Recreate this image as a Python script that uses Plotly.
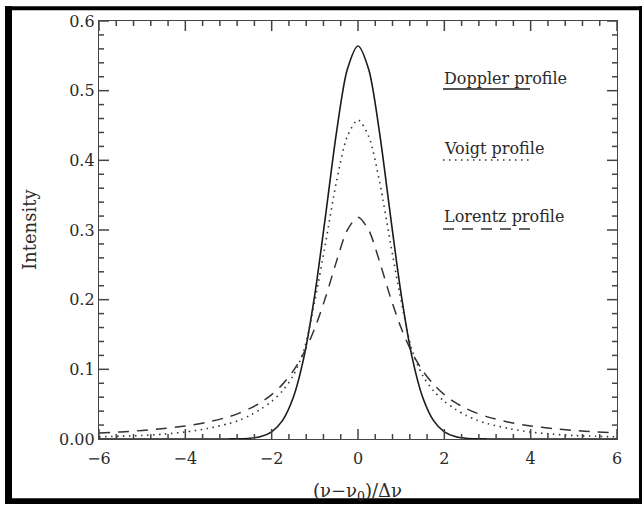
import plotly.graph_objects as go

# ---- data ----
x_vals = [-6.0, -5.5, -5.0, -4.5, -4.0, -3.5, -3.0, -2.75, -2.5, -2.25, -2.0, -1.75, -1.5, -1.25,
          -1.0, -0.75, -0.5, -0.25, 0.0, 0.25, 0.5, 0.75, 1.0, 1.25, 1.5, 1.75, 2.0, 2.25,
          2.5, 2.75, 3.0, 3.5, 4.0, 4.5, 5.0, 5.5, 6.0]

doppler = [0.0, 0.0, 0.0, 0.0, 0.0, 0.0, 0.0001, 0.0003, 0.0011, 0.0036, 0.0103, 0.0264, 0.0595, 0.1182,
           0.2076, 0.3215, 0.4394, 0.5300, 0.5642, 0.5300, 0.4394, 0.3215, 0.2076, 0.1182, 0.0595, 0.0264, 0.0103, 0.0036,
           0.0011, 0.0003, 0.0001, 0.0, 0.0, 0.0, 0.0, 0.0, 0.0]

voigt = [0.003, 0.004, 0.005, 0.007, 0.010, 0.015, 0.022, 0.027, 0.034, 0.043, 0.054, 0.069, 0.091, 0.128,
         0.198, 0.282, 0.369, 0.434, 0.458, 0.434, 0.369, 0.282, 0.198, 0.128, 0.091, 0.069, 0.054, 0.043,
         0.034, 0.027, 0.022, 0.015, 0.010, 0.007, 0.005, 0.004, 0.003]

lorentz = [0.0086, 0.0102, 0.0122, 0.0150, 0.0187, 0.0240, 0.0318, 0.0372, 0.0439, 0.0525, 0.0637, 0.0784, 0.0979, 0.1242,
           0.1592, 0.2037, 0.2546, 0.2996, 0.3183, 0.2996, 0.2546, 0.2037, 0.1592, 0.1242, 0.0979, 0.0784, 0.0637, 0.0525,
           0.0439, 0.0372, 0.0318, 0.0240, 0.0187, 0.0150, 0.0122, 0.0102, 0.0086]

x_range = [-6, 6]
y_range = [0, 0.6]
x_major_ticks = [-6, -4, -2, 0, 2, 4, 6]
x_major_labels = ["\u22126", "\u22124", "\u22122", "0", "2", "4", "6"]
y_major_ticks = [0.0, 0.1, 0.2, 0.3, 0.4, 0.5, 0.6]
y_major_labels = ["0.00", "0.1", "0.2", "0.3", "0.4", "0.5", "0.6"]
x_minor_per_major = 5
y_minor_per_major = 5

series_names = ["Doppler profile", "Voigt profile", "Lorentz profile"]

# ---- layout geometry (pixels) ----
W, H = 642, 505
L, R, T, B = 99, 25, 15, 66
PW, PH = W - L - R, H - T - B

def px(xp):
    return (xp - L) / PW

def py(yp):
    return (H - B - yp) / PH

FONT = "DejaVu Serif"
INK = "#1a1a1a"
AX = "#444444"
TXT = "#2a2a2a"

fig = go.Figure()
styles = [
    dict(color=INK, width=1.6, dash="solid"),
    dict(color="#333333", width=1.6, dash="1.5px,4.5px"),
    dict(color="#333333", width=1.5, dash="11px,8px"),
]
for name, ys, st in zip(series_names, [doppler, voigt, lorentz], styles):
    fig.add_trace(go.Scatter(x=x_vals, y=ys, mode="lines", name=name,
                             line=dict(shape="spline", smoothing=0.8, **st),
                             showlegend=False))

base = dict(showgrid=False, zeroline=False, showline=True, linecolor=AX, linewidth=1.3,
            mirror=True, ticks="", tickfont=dict(family=FONT, size=16, color=TXT))
fig.update_xaxes(range=x_range, tickmode="array", tickvals=x_major_ticks, ticktext=x_major_labels,
                 ticklabelstandoff=5, **base)
fig.update_yaxes(range=y_range, tickmode="array", tickvals=y_major_ticks, ticktext=y_major_labels, **base)

shapes = []

# inward tick marks on all four sides, placed through the axes' own data scales
def x_tick(v, length):
    for anchor, sign in ((0, 1), (1, -1)):
        shapes.append(dict(type="line", xref="x", yref="paper", x0=v, x1=v,
                           ysizemode="pixel", yanchor=anchor, y0=0, y1=sign * length,
                           line=dict(color=AX, width=1.5), layer="above"))

def y_tick(v, length):
    for anchor, sign in ((0, 1), (1, -1)):
        shapes.append(dict(type="line", xref="paper", yref="y", y0=v, y1=v,
                           xsizemode="pixel", xanchor=anchor, x0=0, x1=sign * length,
                           line=dict(color=AX, width=1.5), layer="above"))

for i, v in enumerate(x_major_ticks):
    x_tick(v, 10)
    if i + 1 < len(x_major_ticks):
        step = (x_major_ticks[i + 1] - v) / x_minor_per_major
        for k in range(1, x_minor_per_major):
            x_tick(v + k * step, 5)
for i, v in enumerate(y_major_ticks):
    y_tick(v, 10)
    if i + 1 < len(y_major_ticks):
        step = (y_major_ticks[i + 1] - v) / y_minor_per_major
        for k in range(1, y_minor_per_major):
            y_tick(v + k * step, 5)

annotations = [
    dict(x=px(29), y=py(227), xref="paper", yref="paper", text="Intensity", textangle=-90,
         showarrow=False, font=dict(family=FONT, size=18, color=TXT),
         xanchor="center", yanchor="middle"),
    dict(x=px(357), y=py(493), xref="paper", yref="paper",
         text="(\u03bd\u2212\u03bd<sub>0</sub>)/\u0394\u03bd",
         showarrow=False, font=dict(family=FONT, size=18, color=TXT),
         xanchor="center", yanchor="middle"),
]
legend_text_y = [73, 144, 213]
legend_line_y = [84, 156, 226]
for name, ty, ly, st in zip(series_names, legend_text_y, legend_line_y, styles):
    annotations.append(dict(x=px(442), y=py(ty), xref="paper", yref="paper", text=name,
                            showarrow=False, xanchor="left", yanchor="middle",
                            font=dict(family=FONT, size=16, color=TXT)))
    shapes.append(dict(type="line", xref="paper", yref="paper",
                       x0=px(443), x1=px(530), y0=py(ly), y1=py(ly), line=st))

# outer black frame of the picture
for (x0, x1, y0, y1) in [(5, 12, 0, 505), (5, 642, 0, 4), (5, 642, 499, 505), (639, 642, 0, 505)]:
    shapes.append(dict(type="rect", xref="paper", yref="paper",
                       x0=px(x0), x1=px(x1), y0=py(y1), y1=py(y0),
                       fillcolor="black", line=dict(width=0), layer="above"))

fig.update_layout(
    width=W, height=H, margin=dict(l=L, r=R, t=T, b=B),
    paper_bgcolor="white", plot_bgcolor="white",
    annotations=annotations, shapes=shapes, showlegend=False,
)

fig.write_html("out.html")
